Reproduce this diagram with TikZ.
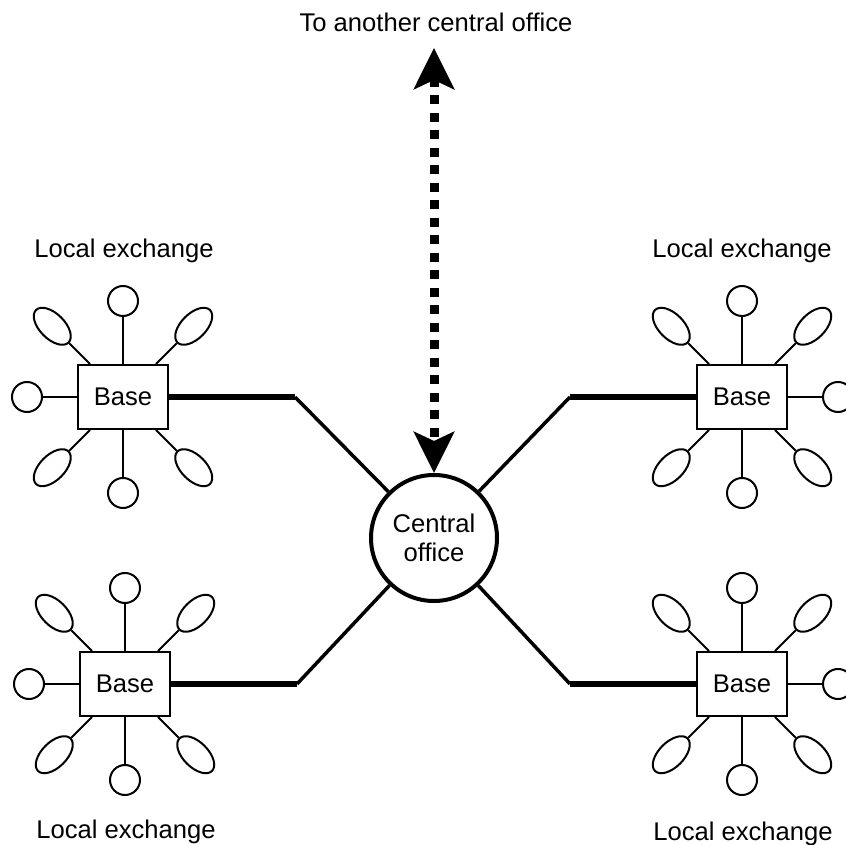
\documentclass[tikz,border=0pt]{standalone}
\usepackage{fontspec}
\setmainfont{Liberation Sans}
\usetikzlibrary{shapes.geometric,arrows.meta}

\begin{document}
\begin{tikzpicture}[
      x=1pt, y=1pt,
      font=\fontsize{25.6}{29}\selectfont,
      base/.style={rectangle, draw, line width=2pt, minimum width=90pt, minimum height=64pt, inner sep=0pt},
      office/.style={circle, draw, line width=4pt, minimum size=126pt, inner sep=0pt, align=center},
      phone/.style={circle, draw, line width=2pt, minimum size=30pt, inner sep=0pt},
      handset/.style={ellipse, draw, line width=2pt, minimum width=46pt, minimum height=25pt, inner sep=0pt},
      spoke/.style={line width=2pt},
      trunk/.style={line width=5.5pt},
      feeder/.style={line width=3.5pt},
      link/.style={<->, line width=9pt, dash pattern=on 9pt off 8.5pt, >={Stealth[length=41pt, width=40pt, inset=9pt]}}
  ]
  \useasboundingbox (0,0) rectangle (846,844);

  % Nodes
  \node[office] (co) at (434,306) {Central\\office};
  \node[base] (tl) at (123,447) {Base};
  \node[base] (tr) at (742,447) {Base};
  \node[base] (bl) at (125,160) {Base};
  \node[base] (br) at (742,160) {Base};

  \coordinate (tl-j) at (295,447);
  \coordinate (tr-j) at (570,447);
  \coordinate (bl-j) at (297,160);
  \coordinate (br-j) at (570,160);
  \coordinate (up) at (434,796);

  % Labels
  \node[anchor=base] (title) at (436,812) {To another central office};
  \node[anchor=base] (tl-label) at (124,586) {Local exchange};
  \node[anchor=base] (tr-label) at (742,586) {Local exchange};
  \node[anchor=base] (bl-label) at (126,6) {Local exchange};
  \node[anchor=base] (br-label) at (743,4) {Local exchange};

  % Telephones (none on the side of the trunk line)
  \foreach \b/\outer in {tl/180,bl/180,tr/0,br/0} {
    \foreach \a in {90,\outer,270} {
      \node[phone] (\b-\a) at ([shift={(\a:96)}]\b) {};
      \draw[spoke] (\b) -- (\b-\a);
    }
    \foreach \a in {45,135,225,315} {
      \node[handset, rotate=\a] (\b-\a) at ([shift={(\a:100)}]\b) {};
      \draw[spoke] (\b) -- (\b-\a);
    }
  }

  % Lines
  \draw[trunk] (tl) -- (tl-j);
  \draw[trunk] (tr) -- (tr-j);
  \draw[trunk] (bl) -- (bl-j);
  \draw[trunk] (br) -- (br-j);
  \draw[feeder] (tl-j) -- (co);
  \draw[feeder] (tr-j) -- (co);
  \draw[feeder] (bl-j) -- (co);
  \draw[feeder] (br-j) -- (co);

  % Arrows
  \draw[link] (up) -- (co);

  \end{tikzpicture}
\end{document}
